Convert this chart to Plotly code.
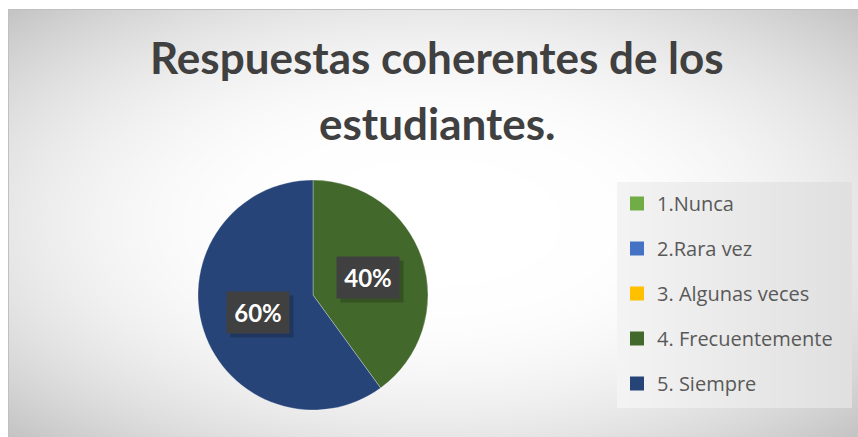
import base64
import struct
import zlib

import numpy as np
import plotly.graph_objects as go

# ---------------- data ----------------
categories = ["1.Nunca", "2.Rara vez", "3. Algunas veces", "4. Frecuentemente", "5. Siempre"]
values = [0, 0, 0, 40, 60]
colors = ["#70AD47", "#4472C4", "#FFC000", "#43682B", "#264478"]
title_lines = ["Respuestas coherentes de los", "estudiantes."]

# ---------------- layout constants ----------------
W, H = 858, 437
PIE_CX, PIE_CY, PIE_R = 313, 295, 115
FONT = "Lato"
LEG_FONT = "Open Sans"


def png_uri(arr):
    h, w = arr.shape
    rgb = np.repeat(arr[:, :, None], 3, axis=2).astype(np.uint8)
    raw = b"".join(b"\x00" + rgb[y].tobytes() for y in range(h))

    def chunk(t, d):
        c = struct.pack(">I", len(d)) + t + d
        return c + struct.pack(">I", zlib.crc32(t + d) & 0xFFFFFFFF)

    png = (b"\x89PNG\r\n\x1a\n"
           + chunk(b"IHDR", struct.pack(">IIBBBBB", w, h, 8, 2, 0, 0, 0))
           + chunk(b"IDAT", zlib.compress(raw, 9))
           + chunk(b"IEND", b""))
    return "data:image/png;base64," + base64.b64encode(png).decode()


# background: radial gradient chart area + legend box
yy, xx = np.mgrid[0:H, 0:W].astype(float)
x0, y0, x1, y1 = 8, 9, 858, 436
cx, cy = (x0 + x1) / 2, (y0 + y1) / 2
d = np.sqrt(((xx - cx) / ((x1 - x0) / 2)) ** 2 + ((yy - cy) / ((y1 - y0) / 2)) ** 2)
f = np.clip((d - 0.3) / 1.11, 0, 1) ** 2
g = 255 - 59 * f
bg = np.full((H, W), 255.0)
inside = (xx >= x0) & (yy >= y0) & (yy <= y1)
bg[inside] = g[inside]
edge = inside & ((xx == x0) | (yy == y0))
bg[edge] = 192
lx0, ly0, lx1, ly1 = 617, 182, 852, 408
lb = (xx >= lx0) & (xx < lx1) & (yy >= ly0) & (yy < ly1)
t = (xx - lx0) / (lx1 - lx0)
bg[lb] = (244 - 20 * t)[lb]
bg_uri = png_uri(np.clip(bg, 0, 255))

fig = go.Figure()

fig.add_trace(go.Pie(
    labels=categories,
    values=values,
    marker=dict(colors=colors, line=dict(color="rgba(255,255,255,0.5)", width=0.6)),
    sort=False,
    direction="clockwise",
    rotation=0,
    textinfo="none",
    hoverinfo="label+percent",
    showlegend=False,
    domain=dict(x=[(PIE_CX - PIE_R) / W, (PIE_CX + PIE_R) / W],
                y=[1 - (PIE_CY + PIE_R) / H, 1 - (PIE_CY - PIE_R) / H]),
))

# legend entries (one group each so spacing can be controlled)
for cat, col in zip(categories, colors):
    fig.add_trace(go.Scatter(
        x=[None], y=[None], mode="markers", name=cat, legendgroup=cat,
        marker=dict(symbol="square", size=14, color=col), showlegend=True,
    ))

annotations = []
# title lines
for line, ty in zip(title_lines, [57, 123]):
    annotations.append(dict(text=line, x=437 / W, y=1 - ty / H, xref="paper", yref="paper",
                            xanchor="center", yanchor="middle", showarrow=False,
                            font=dict(family=FONT, size=44, color="#404040", weight="bold")))

# data labels at half radius along each slice's mid-angle
total = sum(values)
cum = 0
for v in values:
    if v > 0:
        mid = (cum + v / 2) / total * 2 * np.pi
        px = PIE_CX + 0.5 * PIE_R * np.sin(mid)
        py = PIE_CY - 0.5 * PIE_R * np.cos(mid)
        # shadow
        annotations.append(dict(text=" ", x=(px + 4) / W, y=1 - (py + 4) / H, xref="paper", yref="paper",
                                xanchor="center", yanchor="middle", showarrow=False,
                                width=58, height=37, borderpad=2, bgcolor="rgba(0,0,0,0.2)",
                                font=dict(family=FONT, size=23)))
        annotations.append(dict(text=f"{v / total * 100:.0f}%", x=px / W, y=1 - py / H,
                                xref="paper", yref="paper", xanchor="center", yanchor="middle",
                                showarrow=False, width=58, height=37, borderpad=2, bgcolor="#404040",
                                font=dict(family=FONT, size=24, color="#FFFFFF", weight="bold")))
    cum += v

fig.update_layout(
    width=W, height=H,
    margin=dict(l=0, r=0, t=0, b=0),
    paper_bgcolor="#FFFFFF",
    plot_bgcolor="rgba(0,0,0,0)",
    xaxis=dict(visible=False),
    yaxis=dict(visible=False),
    images=[dict(source=bg_uri, xref="paper", yref="paper", x=0, y=1, sizex=1, sizey=1,
                 xanchor="left", yanchor="top", sizing="stretch", layer="below")],
    legend=dict(x=617 / W, y=1 - 184 / H, xanchor="left", yanchor="top",
                bgcolor="rgba(0,0,0,0)", tracegroupgap=16,
                font=dict(family=LEG_FONT, size=20, color="#595959"), itemwidth=30),
    annotations=annotations,
)

fig.write_html(
    "out.html",
    config={"displayModeBar": False},
    post_script="document.body.style.margin='0';document.body.style.padding='0';",
)
